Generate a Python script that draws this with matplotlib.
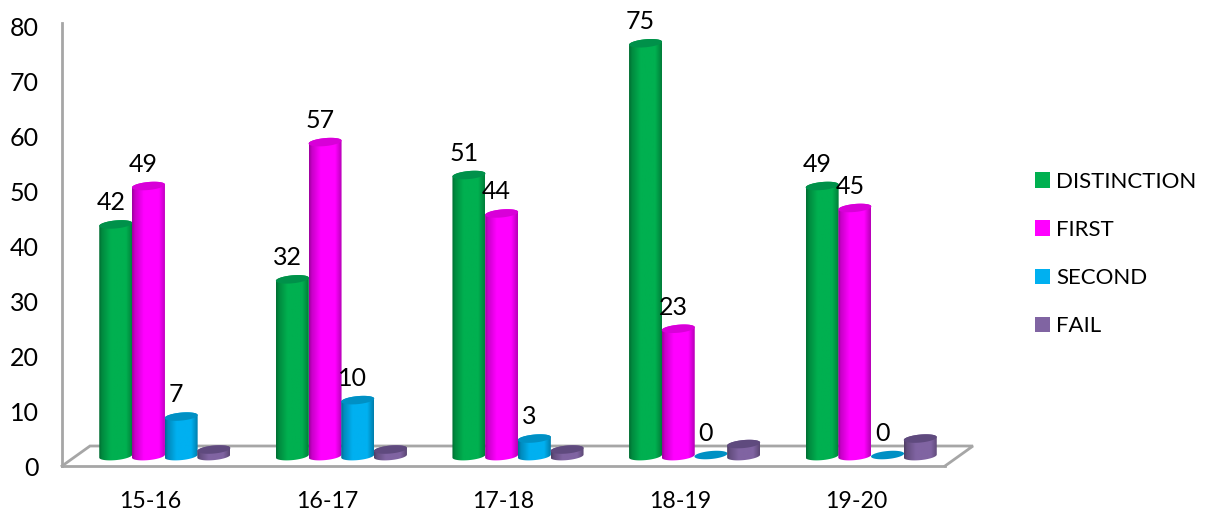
import matplotlib
matplotlib.use("Agg")
import matplotlib.pyplot as plt
import numpy as np
from matplotlib.patches import Patch, Polygon

plt.rcParams['font.family'] = ['Lato', 'DejaVu Sans']

years = ["15-16", "16-17", "17-18", "18-19", "19-20"]
distinction = [42, 32, 51, 75, 49]
first = [49, 57, 44, 23, 45]
second = [7, 10, 3, 0, 0]
fail = [1, 1, 1, 2, 3]

series_names = ["DISTINCTION", "FIRST", "SECOND", "FAIL"]
series_values = [distinction, first, second, fail]
series_colors = ["#00B050", "#FF00FF", "#00B0F0", "#8064A2"]
top_colors = ["#00914A", "#D800D8", "#0090C4", "#5F4A7E"]
show_labels = [True, True, True, False]

W, H = 1209, 517
LEFT, RIGHT, BOTTOM, TOP = 62, 945, 466, 23
PX_X = (RIGHT - LEFT) / 5.0
PX_Y = 5.49

fig = plt.figure(figsize=(W / 100, H / 100), dpi=100)
ax = fig.add_axes([LEFT / W, 1 - BOTTOM / H, (RIGHT - LEFT) / W, (BOTTOM - TOP) / H])

# cylinder sizes in data units
half_w = 16.5 / PX_X
ell_b = 4.0 / PX_Y
tilt = 1.5 / PX_Y
depth_y = 2.0
base_y = 1.8
shift_x = 14.5 / PX_X
step_x = 32.7 / PX_X


def ellipse_pts(cx, cy, t):
    return np.column_stack([cx + half_w * np.cos(t),
                            cy + ell_b * np.sin(t) + tilt * np.cos(t)])


def shade(color):
    rgb = np.array(matplotlib.colors.to_rgb(color))
    pos = np.linspace(0, 1, 60)
    fac = np.interp(pos, [0, 0.08, 0.35, 0.8, 1], [0.62, 0.78, 1.0, 1.0, 0.72])
    return (rgb[None, :] * fac[:, None])[None, :, :]


def draw_cylinder(ax, cx, value, color, top_color, zorder):
    top = value + depth_y
    if value > 0:
        body = np.vstack([ellipse_pts(cx, base_y, np.linspace(np.pi, 2 * np.pi, 40)),
                          ellipse_pts(cx, top, np.linspace(0, np.pi, 40))])
        im = ax.imshow(shade(color), extent=(cx - half_w, cx + half_w, base_y - 2 * ell_b, top + 2 * ell_b),
                       aspect='auto', interpolation='bilinear', zorder=zorder)
        im.set_clip_path(Polygon(body, transform=ax.transData))
    cap = ellipse_pts(cx, top, np.linspace(0, 2 * np.pi, 80))
    ax.add_patch(Polygon(cap, closed=True, facecolor=top_color, edgecolor='none', zorder=zorder + 0.1))


for j, values in enumerate(series_values):
    for i, v in enumerate(values):
        cx = i + shift_x + (j - 1.5) * step_x
        draw_cylinder(ax, cx, v, series_colors[j], top_colors[j], 3 + j)
        if show_labels[j]:
            ax.annotate(str(v), (cx, v + depth_y), xytext=(-3.6, 15.6), textcoords='offset points',
                        ha='center', va='center', fontsize=18, color='black', zorder=10,
                        annotation_clip=False)

ax.set_xlim(-0.5, 4.5)
ax.set_ylim(0, (BOTTOM - TOP) / PX_Y)

# floor outline behind the bars
floor_dx = 28 / PX_X
floor_dy = 20 / PX_Y
ax.plot([-0.5, -0.5 + floor_dx, 4.5 + floor_dx, 4.5], [0, floor_dy, floor_dy, 0],
        color='#A6A6A6', lw=2, clip_on=False, zorder=1, solid_joinstyle='miter')

ax.set_xticks(range(len(years)))
ax.set_xticklabels(years, fontsize=16.7)
ax.set_yticks(range(0, 81, 10))
ax.tick_params(axis='y', length=0, pad=16.5, labelsize=18)
ax.tick_params(axis='x', length=0, pad=18)

for side in ['top', 'right']:
    ax.spines[side].set_visible(False)
for side in ['left', 'bottom']:
    ax.spines[side].set_color('#A6A6A6')
    ax.spines[side].set_linewidth(2)

handles = [Patch(facecolor=c, edgecolor='none') for c in series_colors]
fig.legend(handles, series_names, loc='center left', bbox_to_anchor=(1035 / W, 1 - 254 / H),
           frameon=False, fontsize=16, borderpad=0, borderaxespad=0, handlelength=0.68,
           handleheight=0.68, handletextpad=0.28, labelspacing=1.27)

fig.savefig("out.png", dpi=100)
